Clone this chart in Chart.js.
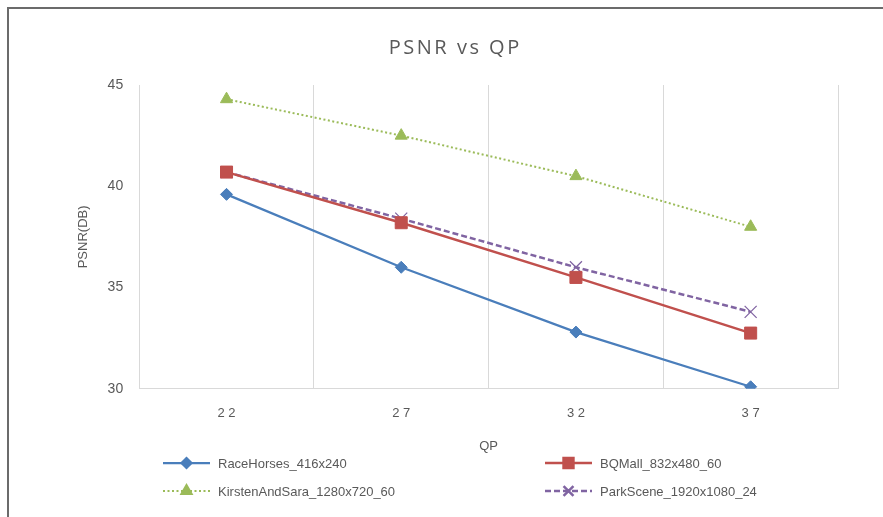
<!DOCTYPE html>
<html>
<head>
<meta charset="utf-8">
<title>PSNR vs QP</title>
<script src="https://cdn.jsdelivr.net/npm/chart.js@4.4.1/dist/chart.umd.min.js"></script>
<style>
  html, body { margin: 0; padding: 0; background: #ffffff; overflow: hidden; }
  #wrap { position: relative; width: 883px; height: 517px; }
  #frame { position: absolute; left: 7px; top: 7px; width: 900px; height: 540px;
           border-left: 2px solid #6b6b6b; border-top: 2px solid #6b6b6b; pointer-events: none; }
  canvas { position: absolute; left: 0; top: 0; }
</style>
</head>
<body>
<div id="wrap">
  <canvas id="chart" width="883" height="517"></canvas>
  <div id="frame"></div>
</div>
<script>
// QP categories (tick labels) and PSNR (dB) per sequence
const qpLabels = ['2 2', '2 7', '3 2', '3 7'];
const raceHorses = [39.6, 36.0, 32.8, 30.1];
const bqMall = [40.7, 38.2, 35.5, 32.75];
const kirstenAndSara = [44.3, 42.5, 40.5, 38.0];
const parkScene = [40.7, 38.4, 36.0, 33.8];
const seriesNames = ['RaceHorses_416x240', 'BQMall_832x480_60', 'KirstenAndSara_1280x720_60', 'ParkScene_1920x1080_24'];
const yMin = 30, yMax = 45, yStep = 5;

const GREY = '#595959';
const FONT = "'Liberation Sans', Arial, sans-serif";

// Wider letter spacing for the chart title only
const spacedTitle = {
  id: 'spacedTitle',
  afterLayout(chart, args, opts) {
    const tb = chart.titleBlock;
    if (!tb || tb._spaced) return;
    const orig = tb.draw;
    tb.draw = function (area) {
      const ctx = this.ctx;
      ctx.save();
      ctx.letterSpacing = opts.spacing;
      ctx.translate(parseFloat(opts.spacing) / 2, 0);
      orig.call(this, area);
      ctx.restore();
    };
    tb._spaced = true;
  }
};

// Two-column legend below the x-axis title, drawn from the dataset styles
const gridLegend = {
  id: 'gridLegend',
  afterDraw(chart, args, opts) {
    const ctx = chart.ctx;
    chart.data.datasets.forEach((ds, i) => {
      const col = i % 2, row = Math.floor(i / 2);
      const x0 = opts.colX[col], y = opts.rowY[row];
      const x1 = x0 + opts.lineLen;
      ctx.save();
      ctx.strokeStyle = ds.borderColor;
      ctx.lineWidth = ds.borderWidth;
      ctx.setLineDash(ds.borderDash || []);
      ctx.beginPath();
      ctx.moveTo(x0, y);
      ctx.lineTo(x1, y);
      ctx.stroke();
      ctx.setLineDash([]);
      ctx.fillStyle = ds.pointBackgroundColor;
      ctx.strokeStyle = ds.pointBorderColor;
      Chart.helpers.drawPoint(ctx, {
        pointStyle: ds.pointStyle,
        radius: ds.legendRadius,
        rotation: 0,
        borderWidth: ds.pointBorderWidth
      }, (x0 + x1) / 2, y);
      ctx.fillStyle = GREY;
      ctx.font = '13px ' + FONT;
      ctx.textBaseline = 'middle';
      ctx.textAlign = 'left';
      ctx.fillText(ds.label, x1 + 8, y + 1);
      ctx.restore();
    });
  }
};

new Chart(document.getElementById('chart'), {
  type: 'line',
  data: {
    labels: qpLabels,
    datasets: [
      {
        label: seriesNames[0], data: raceHorses,
        borderColor: '#4a7ebb', borderWidth: 2.25,
        pointStyle: 'rectRot', pointRadius: 6, legendRadius: 5,
        pointBackgroundColor: '#4a7ebb', pointBorderColor: '#4a7ebb', pointBorderWidth: 1
      },
      {
        label: seriesNames[1], data: bqMall,
        borderColor: '#c0504d', borderWidth: 2.5,
        pointStyle: 'rect', pointRadius: 8.5, legendRadius: 7,
        pointBackgroundColor: '#c0504d', pointBorderColor: '#c0504d', pointBorderWidth: 1
      },
      {
        label: seriesNames[2], data: kirstenAndSara,
        borderColor: '#9bbb59', borderWidth: 2, borderDash: [2, 2.5],
        pointStyle: 'triangle', pointRadius: 7, legendRadius: 6,
        pointBackgroundColor: '#9bbb59', pointBorderColor: '#9bbb59', pointBorderWidth: 1
      },
      {
        label: seriesNames[3], data: parkScene,
        borderColor: '#8064a2', borderWidth: 2.5, borderDash: [6, 3],
        pointStyle: 'crossRot', pointRadius: 8.5, legendRadius: 7,
        pointBackgroundColor: '#8064a2', pointBorderColor: '#8064a2', pointBorderWidth: 1.25
      }
    ]
  },
  options: {
    responsive: false,
    animation: false,
    devicePixelRatio: 1,
    layout: { padding: { left: 70, right: 45, top: 0, bottom: 63 } },
    elements: { line: { tension: 0, fill: false } },
    plugins: {
      legend: { display: false },
      tooltip: { enabled: false },
      title: {
        display: true,
        text: 'PSNR vs QP',
        color: GREY,
        font: { family: "'Open Sans', sans-serif", size: 20, weight: 'normal' },
        padding: { top: 36, bottom: 25 }
      },
      spacedTitle: { spacing: '2.5px' },
      gridLegend: { colX: [163, 545], rowY: [463, 491], lineLen: 47 }
    },
    scales: {
      x: {
        type: 'category',
        offset: true,
        grid: { display: true, offset: true, color: '#d9d9d9', lineWidth: 1, drawTicks: false },
        border: { display: true, color: '#d9d9d9' },
        ticks: { color: GREY, font: { family: FONT, size: 13 }, padding: 17, maxRotation: 0 },
        title: { display: true, text: 'QP', color: GREY, font: { family: FONT, size: 13 }, padding: { top: 0, bottom: 0 } }
      },
      y: {
        min: yMin, max: yMax,
        grid: { display: false, drawTicks: false },
        border: { display: false },
        ticks: { stepSize: yStep, color: GREY, font: { family: FONT, size: 14 }, padding: 16 },
        title: { display: true, text: 'PSNR(DB)', color: GREY, font: { family: FONT, size: 13 }, padding: { top: 6, bottom: 0 } }
      }
    }
  },
  plugins: [spacedTitle, gridLegend]
});
</script>
</body>
</html>
